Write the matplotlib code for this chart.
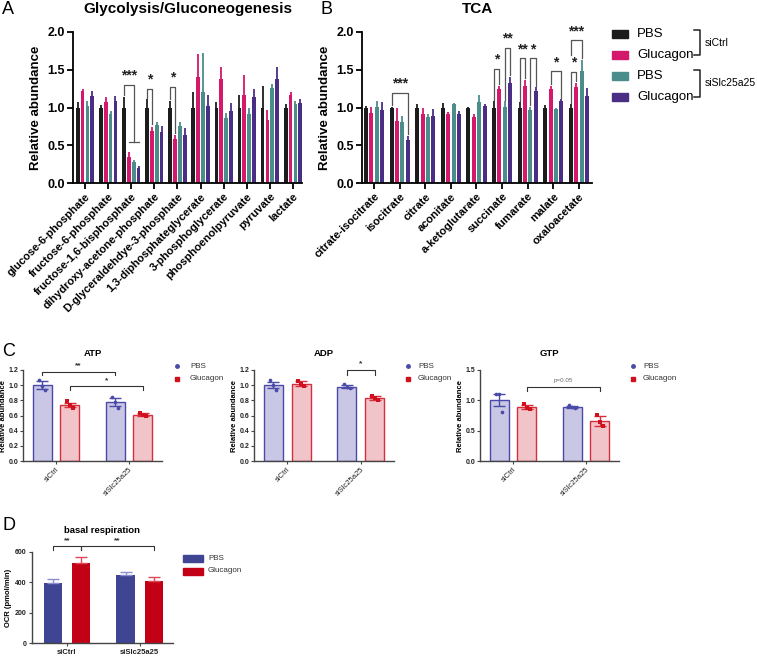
import numpy as np
import matplotlib.pyplot as plt
from matplotlib.patches import Rectangle
from matplotlib.lines import Line2D

plt.rcParams['font.family'] = ['Liberation Sans', 'DejaVu Sans']

W, H = 757, 656

# ---------------- data ----------------
series_labels = ["PBS", "Glucagon", "PBS", "Glucagon"]
series_colors = ["#1c1c1c", "#d4186c", "#4b8d8a", "#4a2d84"]

gly_names = ["glucose-6-phosphate", "fructose-6-phosphate", "fructose-1,6-bisphosphate",
             "dihydroxy-acetone-phosphate", "D-glyceraldehdye-3-phosphate",
             "1,3-diphosphateglycerate", "3-phosphoglycerate", "phosphoenolpyruvate",
             "pyruvate", "lactate"]
gly_pbs_ctrl = [1.0, 1.0, 1.0, 1.0, 1.0, 1.0, 1.0, 1.0, 1.0, 1.0]
gly_glu_ctrl = [1.22, 1.07, 0.35, 0.69, 0.58, 1.41, 1.38, 1.17, 0.84, 1.17]
gly_pbs_kd = [1.02, 0.91, 0.28, 0.77, 0.76, 1.20, 0.86, 0.92, 1.26, 1.05]
gly_glu_kd = [1.15, 1.08, 0.20, 0.67, 0.63, 1.02, 0.95, 1.14, 1.38, 1.06]
gly_err_pbs_ctrl = [0.07, 0.03, 0.14, 0.11, 0.09, 0.20, 0.07, 0.16, 0.29, 0.05]
gly_err_glu_ctrl = [0.03, 0.07, 0.06, 0.05, 0.05, 0.30, 0.15, 0.26, 0.13, 0.03]
gly_err_pbs_kd = [0.06, 0.04, 0.03, 0.04, 0.05, 0.52, 0.07, 0.08, 0.05, 0.04]
gly_err_glu_kd = [0.07, 0.07, 0.02, 0.08, 0.10, 0.14, 0.11, 0.11, 0.15, 0.05]

tca_names = ["citrate-isocitrate", "isocitrate", "citrate", "aconitate", "a-ketoglutarate",
             "succinate", "fumarate", "malate", "oxaloacetate"]
tca_pbs_ctrl = [1.0, 1.0, 1.0, 1.0, 1.0, 1.0, 1.0, 1.0, 1.0]
tca_glu_ctrl = [0.93, 0.82, 0.92, 0.91, 0.87, 1.25, 1.29, 1.25, 1.27]
tca_pbs_kd = [1.01, 0.81, 0.88, 1.04, 1.07, 1.01, 0.97, 0.98, 1.48]
tca_glu_kd = [0.97, 0.57, 0.89, 0.91, 1.02, 1.33, 1.22, 1.09, 1.15]
tca_err_pbs_ctrl = [0.02, 0.01, 0.04, 0.06, 0.01, 0.08, 0.07, 0.03, 0.04]
tca_err_glu_ctrl = [0.08, 0.17, 0.07, 0.03, 0.04, 0.04, 0.08, 0.04, 0.06]
tca_err_pbs_kd = [0.07, 0.08, 0.04, 0.02, 0.09, 0.07, 0.04, 0.01, 0.15]
tca_err_glu_kd = [0.10, 0.05, 0.09, 0.04, 0.02, 0.08, 0.05, 0.02, 0.11]

# significance brackets: (group, left bar, right bar, top, left foot, right foot, label)
gly_sig = [(2, 0, 2, 1.30, 1.16, 0.54, "***"),
           (3, 0, 1, 1.25, 1.13, 0.78, "*"),
           (4, 0, 1, 1.27, 1.11, 0.66, "*")]
tca_sig = [(1, 0, 3, 1.19, 1.03, 0.65, "***"),
           (5, 0, 1, 1.51, 1.10, 1.31, "*"),
           (5, 2, 3, 1.79, 1.10, 1.43, "**"),
           (6, 0, 1, 1.65, 1.09, 1.39, "**"),
           (6, 2, 3, 1.65, 1.03, 1.29, "*"),
           (7, 1, 3, 1.48, 1.31, 1.13, "*"),
           (8, 0, 1, 1.47, 1.06, 1.35, "*"),
           (8, 0, 2, 1.89, 1.70, 1.66, "***")]

cond_labels = ["siCtrl", "siSlc25a25"]
atp_pbs = [1.0, 0.78]
atp_glu = [0.74, 0.61]
atp_pbs_sem = [0.05, 0.05]
atp_glu_sem = [0.03, 0.02]
atp_pbs_pts = [[1.07, 0.99, 0.94], [0.85, 0.78, 0.70]]
atp_glu_pts = [[0.79, 0.74, 0.70], [0.63, 0.61, 0.60]]

adp_pbs = [1.0, 0.98]
adp_glu = [1.02, 0.83]
adp_pbs_sem = [0.04, 0.02]
adp_glu_sem = [0.03, 0.03]
adp_pbs_pts = [[1.07, 1.0, 0.93], [1.02, 0.97, 0.96]]
adp_glu_pts = [[1.06, 1.02, 0.99], [0.86, 0.83, 0.81]]

gtp_pbs = [1.0, 0.89]
gtp_glu = [0.89, 0.66]
gtp_pbs_sem = [0.10, 0.02]
gtp_glu_sem = [0.03, 0.08]
gtp_pbs_pts = [[1.11, 1.10, 0.80], [0.92, 0.89, 0.87]]
gtp_glu_pts = [[0.94, 0.88, 0.85], [0.76, 0.65, 0.58]]

ocr_pbs = [395, 447]
ocr_glu = [530, 410]
ocr_pbs_err = [30, 18]
ocr_glu_err = [35, 25]


def box(l, t, r, b):
    return [l / W, 1 - b / H, (r - l) / W, (b - t) / H]


fig = plt.figure(figsize=(W / 100, H / 100), dpi=100)


def fig_text(x, y, s, **kw):
    fig.text(x / W, 1 - y / H, s, **kw)


# ---------------- panels A & B ----------------
def group_bars(ax, names, means, errs, sigs, xlim, title):
    slot, bw = 0.21, 0.16
    x = np.arange(len(names))
    for j in range(4):
        xs = x + (j - 1.5) * slot
        ax.bar(xs, means[j], width=bw, color=series_colors[j], linewidth=0)
        ax.errorbar(xs, means[j], yerr=[np.zeros(len(names)), errs[j]], fmt='none',
                    ecolor=series_colors[j], elinewidth=1.3, capsize=0)
    for g, a, b, top, fa, fb, lab in sigs:
        xa = g + (a - 1.5) * slot
        xb = g + (b - 1.5) * slot
        ax.plot([xa, xa, xb, xb], [fa, top, top, fb], color="#555555", lw=0.9,
                clip_on=False)
        ax.text((xa + xb) / 2, top + 0.03, lab, ha='center', va='bottom',
                fontsize=10, fontweight='bold', color="#222222")
    ax.set_xlim(*xlim)
    ax.set_ylim(0, 2.0)
    ax.set_yticks([0, 0.5, 1.0, 1.5, 2.0])
    ax.set_yticklabels(["0.0", "0.5", "1.0", "1.5", "2.0"], fontsize=9, fontweight='bold')
    ax.set_xticks(x)
    ax.set_xticklabels(names, rotation=45, ha='right', rotation_mode='anchor',
                       fontsize=8, fontweight='bold')
    ax.set_ylabel("Relative abundance", fontsize=9.5, fontweight='bold', labelpad=4)
    for s in ["top", "right"]:
        ax.spines[s].set_visible(False)
    for s in ["left", "bottom"]:
        ax.spines[s].set_linewidth(1.3)
    ax.tick_params(width=1.3, length=4, pad=2)
    ax.set_title(title, fontsize=11, fontweight='bold', pad=14)


axA = fig.add_axes(box(73, 32, 302, 183))
group_bars(axA, gly_names,
           [gly_pbs_ctrl, gly_glu_ctrl, gly_pbs_kd, gly_glu_kd],
           [gly_err_pbs_ctrl, gly_err_glu_ctrl, gly_err_pbs_kd, gly_err_glu_kd],
           gly_sig, (-0.52, 9.39), "Glycolysis/Gluconeogenesis")
# horizontal foot of the *** bracket in A
axA.plot([2 - 0.5 * 0.21, 2 + 1.5 * 0.21], [0.54, 0.54], color="#555555", lw=0.9)

axB = fig.add_axes(box(362, 32, 592, 183))
group_bars(axB, tca_names,
           [tca_pbs_ctrl, tca_glu_ctrl, tca_pbs_kd, tca_glu_kd],
           [tca_err_pbs_ctrl, tca_err_glu_ctrl, tca_err_pbs_kd, tca_err_glu_kd],
           tca_sig, (-0.47, 8.51), "TCA")

# legend for A/B
for j, yy in enumerate([34, 55, 76, 97]):
    fig.patches.append(Rectangle((612 / W, 1 - (yy + 4) / H), 16 / W, 8 / H,
                                 color=series_colors[j], transform=fig.transFigure))
    fig_text(637, yy, series_labels[j], fontsize=9.5, va='center', ha='left')
for t, b, lab in [(30, 55, "siCtrl"), (70, 97, "siSlc25a25")]:
    xs = np.array([694, 700, 700, 694]) / W
    ys = 1 - np.array([t, t, b, b]) / H
    fig.add_artist(Line2D(xs, ys, color="#222222", lw=1.1))
    fig_text(705, (t + b) / 2, lab, fontsize=7.5, va='center', ha='left')

# ---------------- panel C ----------------
pbs_edge, pbs_fill = "#4a4aa8", "#c9c6e6"
glu_edge, glu_fill = "#d62e3c", "#f1c4ca"
pt_offsets = [-0.04, 0.0, 0.04]


def scatter_bars(ax, pbs, glu, pbs_sem, glu_sem, pbs_pts, glu_pts, ymax, yticks, title):
    x = np.arange(2)
    off, bw = 0.19, 0.26
    ax.bar(x - off, pbs, width=bw, color=pbs_fill, edgecolor=pbs_edge, linewidth=1.0)
    ax.bar(x + off, glu, width=bw, color=glu_fill, edgecolor=glu_edge, linewidth=1.0)
    ax.errorbar(x - off, pbs, yerr=pbs_sem, fmt='none', ecolor=pbs_edge, elinewidth=1.0,
                capsize=4, capthick=1.0)
    ax.errorbar(x + off, glu, yerr=glu_sem, fmt='none', ecolor=glu_edge, elinewidth=1.0,
                capsize=4, capthick=1.0)
    for i in range(2):
        ax.scatter(i - off + np.array(pt_offsets), pbs_pts[i], s=7, marker='o',
                   color=pbs_edge, zorder=3, linewidths=0)
        ax.scatter(i + off + np.array(pt_offsets), glu_pts[i], s=7, marker='s',
                   color="#d0101c", zorder=3, linewidths=0)
    ax.set_xlim(-0.45, 1.45)
    ax.set_ylim(0, ymax)
    ax.set_yticks(yticks)
    ax.set_yticklabels([f"{v:.1f}" for v in yticks], fontsize=5, fontweight='bold')
    ax.set_xticks(x)
    ax.set_xticklabels(cond_labels, rotation=45, ha='right', rotation_mode='anchor',
                       fontsize=5.5)
    ax.set_ylabel("Relative abundance", fontsize=5.5, fontweight='bold', labelpad=1)
    for s in ["top", "right"]:
        ax.spines[s].set_visible(False)
    for s in ["left", "bottom"]:
        ax.spines[s].set_linewidth(1.0)
        ax.spines[s].set_color("#444444")
    ax.tick_params(width=0.8, length=2.5, pad=1, colors="#444444", labelcolor="#222222")
    ax.set_title(title, fontsize=6.8, fontweight='bold', pad=10)


def bracket(ax, xa, xb, top, foot, lab, ty, fs=6, col="#333333"):
    ax.plot([xa, xa, xb, xb], [foot, top, top, foot], color="#333333", lw=0.8,
            clip_on=False)
    ax.text((xa + xb) / 2, ty, lab, ha='center', va='center', fontsize=fs, color=col,
            fontweight='bold' if '*' in lab else 'normal', clip_on=False)


def c_legend(xm, xt):
    fig.add_artist(Line2D([xm / W], [1 - 366 / H], marker='o', color=pbs_edge,
                          markersize=2.5, linestyle='none'))
    fig.add_artist(Line2D([xm / W], [1 - 379 / H], marker='s', color="#d0101c",
                          markersize=2.5, linestyle='none'))
    fig_text(xt, 366, "PBS", fontsize=5.8, va='center', color="#333333")
    fig_text(xt, 379, "Glucagon", fontsize=5.8, va='center', color="#333333")


axATP = fig.add_axes(box(23, 370, 162, 461))
scatter_bars(axATP, atp_pbs, atp_glu, atp_pbs_sem, atp_glu_sem, atp_pbs_pts, atp_glu_pts,
             1.2, [0, 0.2, 0.4, 0.6, 0.8, 1.0, 1.2], "ATP")
bracket(axATP, -0.19, 0.81, 1.18, 1.13, "**", 1.26)
bracket(axATP, 0.19, 1.19, 0.99, 0.93, "*", 1.06)
c_legend(177, 190)

axADP = fig.add_axes(box(254, 370, 394, 461))
scatter_bars(axADP, adp_pbs, adp_glu, adp_pbs_sem, adp_glu_sem, adp_pbs_pts, adp_glu_pts,
             1.2, [0, 0.2, 0.4, 0.6, 0.8, 1.0, 1.2], "ADP")
bracket(axADP, 0.81, 1.19, 1.20, 1.13, "*", 1.28)
c_legend(408, 418)

axGTP = fig.add_axes(box(480, 370, 619, 461))
scatter_bars(axGTP, gtp_pbs, gtp_glu, gtp_pbs_sem, gtp_glu_sem, gtp_pbs_pts, gtp_glu_pts,
             1.5, [0, 0.5, 1.0, 1.5], "GTP")
bracket(axGTP, 0.19, 1.19, 1.22, 1.15, "p=0.05", 1.33, fs=4.5, col="#666666")
c_legend(633, 643)

# ---------------- panel D ----------------
d_pbs, d_glu = "#3f4593", "#c20016"
axD = fig.add_axes(box(32, 552, 173, 643))
xd = np.arange(2)
axD.bar(xd - 0.193, ocr_pbs, width=0.25, color=d_pbs)
axD.bar(xd + 0.193, ocr_glu, width=0.25, color=d_glu)
axD.errorbar(xd - 0.193, ocr_pbs, yerr=[[0, 0], ocr_pbs_err], fmt='none', ecolor="#8b8fd0",
             elinewidth=1.0, capsize=4, capthick=1.0)
axD.errorbar(xd + 0.193, ocr_glu, yerr=[[0, 0], ocr_glu_err], fmt='none', ecolor="#e0485a",
             elinewidth=1.0, capsize=4, capthick=1.0)
axD.set_xlim(-0.48, 1.46)
axD.set_ylim(0, 600)
axD.set_yticks([0, 200, 400, 600])
axD.set_yticklabels(["0", "200", "400", "600"], fontsize=5, fontweight='bold')
axD.set_xticks(xd)
axD.set_xticklabels(cond_labels, fontsize=5.5, fontweight='bold')
axD.set_ylabel("OCR (pmol/min)", fontsize=5.5, fontweight='bold', labelpad=2)
for s in ["top", "right"]:
    axD.spines[s].set_visible(False)
for s in ["left", "bottom"]:
    axD.spines[s].set_linewidth(1.0)
    axD.spines[s].set_color("#444444")
axD.tick_params(width=0.8, length=2.5, pad=1.5, colors="#444444", labelcolor="#222222")
axD.set_title("basal respiration", fontsize=6.8, fontweight='bold', pad=14)
bracket(axD, -0.193, 0.193, 637, 611, "**", 674)
bracket(axD, 0.193, 1.193, 637, 611, "**", 674)
for yy, col, lab in [(558, d_pbs, "PBS"), (571, d_glu, "Glucagon")]:
    fig.patches.append(Rectangle((183 / W, 1 - (yy + 3.5) / H), 20 / W, 7 / H,
                                 color=col, transform=fig.transFigure))
    fig_text(208, yy, lab, fontsize=5.8, va='center', color="#333333")

# panel letters
for lab, x, y in [("A", 2, 10), ("B", 320, 10), ("C", 2, 351), ("D", 2, 526)]:
    fig_text(x, y, lab, fontsize=13, va='center', ha='left')

fig.savefig("out.png", dpi=100)
